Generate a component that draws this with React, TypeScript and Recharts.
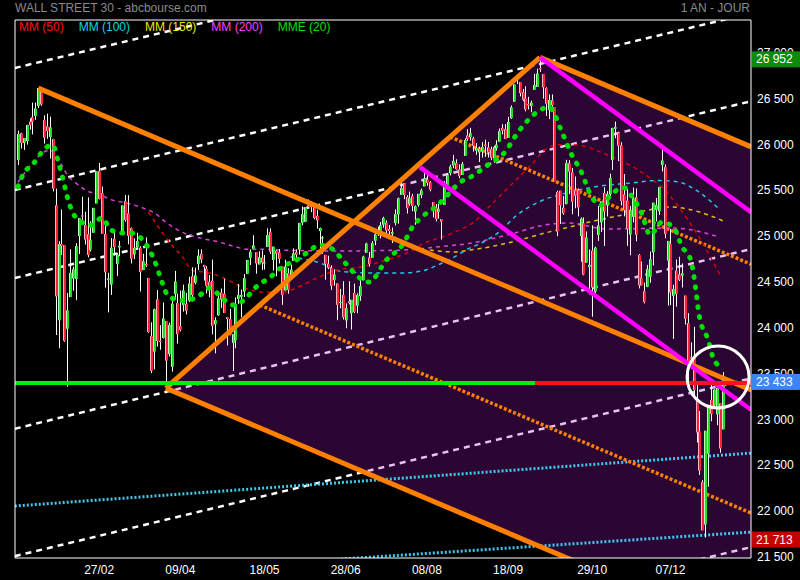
import React from 'react';
import {
  ComposedChart, Bar, Line, Area, XAxis, YAxis,
  ReferenceLine, ReferenceDot, ReferenceArea,
} from 'recharts';

const FONT = '"Liberation Sans", Arial, sans-serif';

// daily candles [open, high, low, close], 17/01/2018 -> 04/01/2019
const jan18 = [
  [25834, 26153, 25778, 26116], [26123, 26130, 25957, 26018], [26021, 26072, 25942, 26072],
  [26040, 26215, 26000, 26215], [26250, 26286, 26165, 26211], [26298, 26458, 26112, 26252],
  [26313, 26459, 26270, 26393], [26421, 26617, 26400, 26617], [26591, 26608, 26424, 26439],
  [26270, 26320, 26012, 26077], [26198, 26338, 26063, 26149],
];
const feb18 = [
  [26083, 26306, 25849, 26187], [26062, 26062, 25490, 25521], [25337, 25520, 23923, 24346],
  [24085, 24946, 23778, 24913], [24916, 25293, 24796, 24893], [24902, 24903, 23849, 23860],
  [23993, 24382, 23360, 24191], [24337, 24860, 24337, 24601], [24541, 24668, 24406, 24640],
  [24535, 24925, 24303, 24893], [25004, 25200, 24806, 25200], [25227, 25432, 25165, 25219],
  [25124, 25268, 24910, 24965], [25022, 25425, 24770, 24798], [24853, 25163, 24834, 24962],
  [25040, 25310, 25040, 25310], [25359, 25709, 25359, 25709], [25709, 25800, 25402, 25410],
  [25472, 25543, 25029, 25029],
];
const mar18 = [
  [25024, 25150, 24440, 24609], [24536, 24602, 24170, 24538], [24475, 24980, 24360, 24875],
  [24971, 25070, 24790, 24884], [24700, 24820, 24566, 24801], [24880, 24950, 24781, 24895],
  [25025, 25336, 25015, 25336], [25384, 25450, 25160, 25179], [25248, 25449, 24913, 25007],
  [25088, 25097, 24704, 24758], [24803, 24977, 24750, 24874], [24878, 25039, 24863, 24947],
  [24875, 24892, 24398, 24611], [24632, 24810, 24630, 24727], [24697, 24988, 24665, 24682],
  [24546, 24546, 23947, 23958], [23909, 24062, 23509, 23533], [23743, 24211, 23549, 24203],
  [24311, 24414, 23797, 23858], [23860, 24031, 23762, 23848], [23890, 24277, 23885, 24103],
];
const apr18 = [
  [24076, 24076, 23344, 23644], [23715, 24058, 23688, 24033], [23577, 24311, 23523, 24264],
  [24373, 24622, 24306, 24505], [24272, 24374, 23829, 23933], [24019, 24409, 23963, 23979],
  [24252, 24472, 24178, 24408], [24264, 24382, 24147, 24189], [24301, 24558, 24284, 24483],
  [24562, 24662, 24289, 24360], [24493, 24658, 24475, 24573], [24700, 24858, 24632, 24787],
  [24808, 24858, 24706, 24748], [24688, 24688, 24517, 24665], [24646, 24675, 24376, 24463],
  [24502, 24577, 24335, 24449], [24515, 24746, 23930, 24024], [24041, 24117, 23723, 24084],
  [24139, 24398, 24132, 24322], [24386, 24430, 24218, 24311], [24371, 24537, 24163, 24163],
];
const may18 = [
  [24117, 24117, 23809, 24099], [24097, 24208, 23920, 23925], [23836, 23930, 23531, 23930],
  [23866, 24333, 23778, 24263], [24317, 24479, 24263, 24357], [24341, 24418, 24116, 24360],
  [24399, 24587, 24337, 24543], [24591, 24743, 24591, 24740], [24766, 24855, 24687, 24831],
  [24867, 25012, 24866, 24899], [24826, 24826, 24592, 24706], [24693, 24837, 24693, 24769],
  [24766, 24847, 24633, 24714], [24706, 24796, 24637, 24715], [24883, 25087, 24883, 25013],
  [25048, 25086, 24808, 24834], [24742, 24887, 24626, 24887], [24843, 24855, 24564, 24812],
  [24825, 24861, 24704, 24753], [24672, 24672, 24252, 24361], [24411, 24744, 24406, 24668],
  [24597, 24654, 24374, 24416],
];
const jun18 = [
  [24536, 24691, 24528, 24635], [24733, 24868, 24733, 24814], [24825, 24858, 24729, 24800],
  [24857, 25147, 24800, 25146], [25149, 25326, 25121, 25241], [25159, 25317, 25154, 25317],
  [25336, 25402, 25316, 25322], [25346, 25380, 25263, 25321], [25333, 25359, 25186, 25201],
  [25223, 25289, 25084, 25175], [25057, 25096, 24861, 25090], [24983, 25003, 24809, 24987],
  [24797, 24797, 24527, 24700], [24701, 24788, 24641, 24658], [24654, 24683, 24416, 24462],
  [24522, 24640, 24461, 24581], [24485, 24485, 24085, 24253], [24278, 24426, 24215, 24283],
  [24360, 24509, 24092, 24118], [24084, 24268, 23997, 24216], [24291, 24509, 24257, 24271],
];
const jul18 = [
  [24161, 24307, 23982, 24307], [24381, 24484, 24162, 24175], [24245, 24377, 24161, 24357],
  [24347, 24530, 24296, 24456], [24520, 24788, 24520, 24777], [24821, 24930, 24821, 24920],
  [24767, 24830, 24671, 24700], [24765, 24948, 24765, 24925], [24952, 25044, 24903, 25019],
  [25028, 25105, 25004, 25064], [25027, 25155, 24976, 25120], [25128, 25213, 25093, 25199],
  [25148, 25174, 24999, 25065], [25079, 25124, 24980, 25058], [25029, 25095, 24926, 25044],
  [25146, 25294, 25118, 25242], [25240, 25423, 25137, 25414], [25454, 25592, 25454, 25527],
  [25577, 25577, 25405, 25451], [25427, 25448, 25249, 25307], [25354, 25488, 25334, 25415],
];
const aug18 = [
  [25438, 25463, 25275, 25334], [25271, 25337, 25126, 25326], [25341, 25463, 25323, 25463],
  [25449, 25521, 25415, 25502], [25545, 25692, 25545, 25629], [25621, 25671, 25551, 25584],
  [25589, 25603, 25491, 25509], [25372, 25372, 25207, 25313], [25312, 25353, 25162, 25188],
  [25265, 25354, 25192, 25300], [25188, 25188, 24965, 25162], [25343, 25602, 25343, 25559],
  [25557, 25690, 25507, 25669], [25690, 25781, 25664, 25759], [25775, 25888, 25743, 25822],
  [25797, 25840, 25727, 25734], [25728, 25786, 25633, 25657], [25669, 25812, 25669, 25790],
  [25879, 26068, 25879, 26050], [26099, 26169, 26042, 26064], [26081, 26184, 26044, 26125],
  [26068, 26086, 25924, 25987], [25935, 26016, 25890, 25965],
];
const sep18 = [
  [25917, 25979, 25810, 25952], [25927, 26029, 25860, 25975], [25999, 26054, 25867, 25996],
  [25970, 26029, 25860, 25917], [25950, 25977, 25833, 25857], [25852, 25987, 25800, 25971],
  [25961, 26048, 25935, 25999], [26033, 26176, 26033, 26146], [26181, 26223, 26113, 26155],
  [26169, 26223, 26059, 26062], [26074, 26303, 26074, 26247], [26290, 26427, 26281, 26406],
  [26469, 26657, 26469, 26657], [26711, 26770, 26662, 26744], [26683, 26683, 26527, 26562],
  [26571, 26607, 26474, 26492], [26503, 26637, 26364, 26385], [26441, 26522, 26384, 26440],
  [26422, 26480, 26354, 26458],
];
const oct18 = [
  [26598, 26772, 26598, 26651], [26629, 26828, 26629, 26774], [26833, 26952, 26794, 26828],
  [26770, 26770, 26502, 26627], [26616, 26626, 26314, 26447], [26379, 26548, 26278, 26487],
  [26483, 26548, 26368, 26431], [26409, 26409, 25598, 25599], [25483, 25498, 25001, 25053],
  [25497, 25497, 25135, 25340], [25311, 25438, 25234, 25251], [25351, 25834, 25351, 25798],
  [25796, 25830, 25460, 25707], [25697, 25745, 25241, 25379], [25503, 25652, 25306, 25444],
  [25502, 25522, 25218, 25317], [25004, 25205, 24723, 25191], [25143, 25206, 24575, 24583],
  [24712, 25053, 24712, 24985], [24667, 24856, 24367, 24688], [24843, 25119, 24122, 24443],
  [24397, 24887, 24377, 24875], [25014, 25330, 24950, 25116],
];
const nov18 = [
  [25153, 25380, 25047, 25381], [25472, 25535, 24895, 25271], [25340, 25492, 25217, 25462],
  [25459, 25684, 25426, 25635], [25833, 26184, 25723, 26180], [26174, 26251, 26070, 26191],
  [26128, 26128, 25820, 25989], [25992, 26027, 25337, 25387], [25455, 25678, 25217, 25286],
  [25389, 25513, 24896, 25081], [25021, 25329, 24793, 25289], [25214, 25532, 25152, 25413],
  [25423, 25521, 24946, 25017], [24796, 24806, 24431, 24466], [24544, 24725, 24464, 24465],
  [24400, 24495, 24268, 24286], [24449, 24688, 24445, 24640], [24560, 24834, 24494, 24749],
  [24827, 25367, 24682, 25366], [25292, 25418, 25162, 25339], [25274, 25540, 25233, 25538],
];
const dec18 = [
  [25779, 25981, 25708, 25826], [25755, 25785, 24978, 25027], [24737, 24950, 24243, 24948],
  [24918, 25080, 24250, 24389], [24352, 24471, 23881, 24423], [24625, 24747, 24233, 24370],
  [24581, 24777, 24512, 24527], [24571, 24704, 24441, 24597], [24353, 24353, 24037, 24101],
  [24052, 24162, 23424, 23593], [23678, 23842, 23553, 23676], [23676, 24012, 23233, 23324],
  [23225, 23382, 22750, 22860], [22872, 23094, 22396, 22445], [22317, 22339, 21792, 21792],
  [21857, 22879, 21713, 22878], [22629, 23139, 22268, 23139], [23213, 23382, 22982, 23062],
  [23153, 23333, 23118, 23327],
];
const jan19 = [
  [23059, 23413, 22939, 23346], [23177, 23177, 22638, 22686], [22894, 23518, 22894, 23433],
];

// moving averages: [bar index, value]
const mme20 = [
  [0, 25540], [2, 25690], [5, 25780], [8, 25910], [10, 25975], [12, 25995], [14, 25800],
  [16, 25560], [17, 25430], [19, 25250], [21, 25180], [25, 25120], [29, 25200], [32, 25070],
  [36, 25035], [39, 25035], [43, 24960], [45, 24870], [47, 24740], [49, 24560], [50, 24470],
  [52, 24340], [57, 24300], [62, 24340], [66, 24435], [70, 24340], [74, 24250], [78, 24305],
  [82, 24445], [87, 24555], [91, 24665], [96, 24740], [100, 24830], [104, 24905], [108, 24870],
  [112, 24740], [115, 24630], [121, 24500], [127, 24740], [133, 24925], [136, 25100],
  [140, 25230], [144, 25320], [149, 25480], [152, 25580], [156, 25645], [163, 25800],
  [167, 25885], [173, 26160], [179, 26355], [183, 26410], [188, 26105], [191, 25885],
  [194, 25720], [198, 25420], [201, 25340], [205, 25470], [209, 25530], [212, 25420],
  [215, 25255], [218, 25015], [222, 25155], [226, 25100], [229, 24885], [232, 24740],
  [233, 24580], [235, 24120], [238, 23870], [240, 23650], [243, 23565],
];
const mm50 = [
  [45, 25265], [48, 25120], [53, 24905], [57, 24765], [60, 24630], [66, 24600], [71, 24545],
  [77, 24450], [85, 24390], [91, 24390], [97, 24450], [103, 24545], [110, 24630], [118, 24665],
  [127, 24740], [135, 24830], [140, 24925], [147, 25000], [153, 25080], [157, 25150],
  [163, 25340], [170, 25560], [177, 25780], [182, 25950], [187, 26000], [193, 25995],
  [203, 25890], [214, 25720], [224, 25470], [231, 25180], [238, 24820], [242, 24580],
];
const mm100 = [
  [94, 24775], [104, 24710], [111, 24620], [121, 24600], [132, 24600], [139, 24620],
  [145, 24690], [150, 24765], [155, 24860], [160, 24930], [166, 25050], [172, 25230],
  [180, 25380], [190, 25480], [200, 25545], [211, 25580], [221, 25610], [228, 25590],
  [234, 25500], [242, 25290],
];
const mm150 = [
  [142, 24850], [150, 24830], [156, 24850], [165, 24900], [173, 24960], [181, 25030],
  [190, 25100], [197, 25155], [205, 25210], [214, 25265], [225, 25320], [235, 25265],
  [243, 25170],
];
const mm200 = [
  [0, 25590], [5, 25800], [9, 25920], [11, 25940], [15, 25780], [17, 25670], [20, 25580],
  [22, 25530], [25, 25480], [27, 25470], [32, 25400], [37, 25365], [43, 25310], [47, 25255],
  [51, 25155], [55, 25070], [59, 25015], [63, 24980], [69, 24940], [75, 24885], [79, 24860],
  [85, 24860], [90, 24850], [112, 24840], [133, 24850], [145, 24885], [156, 24925],
  [170, 25025], [181, 25120], [190, 25145], [203, 25080], [226, 25090], [242, 24990],
];

// drawn lines, end points [bar index, price]
const whiteDashed = [
  [[-1.1, 26836], [252.8, 28765]],
  [[-1.1, 25505], [252.8, 27434]],
  [[-1.1, 24545], [252.8, 26474]],
  [[-1.1, 22900], [252.8, 24861]],
  [[-1.1, 21510], [252.8, 23450]],
  [[-1.1, 19680], [252.8, 21609]],
];
const orangeSolid = [
  [[7, 26617], [252.8, 23323]],
  [[51, 23344], [180, 26952]],
  [[180, 26952], [252.8, 25976]],
  [[51, 23344], [200, 21347]],
];
const orangeDotted = [
  [[83.4, 24250], [252.8, 21980]],
  [[149, 26085], [252.8, 24695]],
];
const magentaSolid = [
  [[180, 26952], [252.8, 25264]],
  [[138.6, 25755], [252.8, 23107]],
];
const cyanDotted = [
  [[-1.1, 22057], [252.8, 22635]],
  [[110, 21475], [252.8, 21773]],
];
const supportGreen = [[-1.1, 23400], [178.3, 23400]];
const supportRed = [[178.3, 23400], [252.8, 23400]];

// shaded fork zone: [bar index, lower, upper]
const forkZone = [
  [51, 23344, 23344],
  [180, 21615, 26952],
  [189.4, 21490, 26826],
  [252.8, 21400, 25976],
];

const xTicks = [28, 56, 85, 113, 141, 169, 198, 225];
const xTickLabels = ['27/02', '09/04', '18/05', '28/06', '08/08', '18/09', '29/10', '07/12'];
const yTicks = [21500, 22000, 22500, 23000, 23500, 24000, 24500, 25000, 25500, 26000, 26500, 27000];

const priceTags = [
  { value: 26952, text: '26 952', bg: '#0b8a0b' },
  { value: 23433, text: '23 433', bg: '#3d85f5' },
  { value: 21713, text: '21 713', bg: '#c40000' },
];

const legendItems = [
  { label: 'MM (50)', color: '#ff1010' },
  { label: 'MM (100)', color: '#00d8e8' },
  { label: 'MM (150)', color: '#e8e800' },
  { label: 'MM (200)', color: '#ff40ff' },
  { label: 'MME (20)', color: '#00e000' },
];

const X_MIN = -1.03;
const X_MAX = 252.76;
const Y_MIN = 21490;
const Y_MAX = 27360;

const candleData = [
  ...jan18, ...feb18, ...mar18, ...apr18, ...may18, ...jun18,
  ...jul18, ...aug18, ...sep18, ...oct18, ...nov18, ...dec18, ...jan19,
].map(([o, h, l, c], i) => ({ x: i, range: [l, h], o, h, l, c }));

const pts = (arr: number[][]) => arr.map(([x, y]) => ({ x, y }));
const zone = forkZone.map(([x, lo, hi]) => ({ x, band: [lo, hi] }));

const fmt = (v: number) => `${Math.floor(v / 1000)} ${String(v % 1000).padStart(3, '0')}`;

const Candle = (props: any) => {
  const { x, y, width, height, payload } = props;
  if (x == null || !payload) return null;
  const { o, h, l, c } = payload;
  const top = Math.min(y, y + height);
  const bot = Math.max(y, y + height);
  const py = (v: number) => top + ((h - v) / (h - l || 1)) * (bot - top);
  const cx = Math.round(x + width / 2);
  const up = c >= o;
  const bt = Math.min(py(o), py(c));
  const bh = Math.max(1, Math.abs(py(o) - py(c)));
  return (
    <g>
      <line x1={cx + 0.5} x2={cx + 0.5} y1={top} y2={bot} stroke="#ffffff" strokeWidth={1} />
      <rect x={cx - 1} y={bt} width={3} height={bh} fill={up ? '#1ee01e' : '#ff1f3d'} />
      <rect x={cx - 1} y={bt} width={1} height={bh} fill={up ? '#b8ffb8' : '#ffb0bd'} />
    </g>
  );
};

const renderYTick = (props: any) => (
  <text x={props.x} y={props.y} dy={4} fill="#ffffff" fontSize={12} fontFamily={FONT} textAnchor="start">
    {fmt(props.payload.value)}
  </text>
);

const renderXTick = (props: any) => (
  <text x={props.x} y={props.y + 10} fill="#ffffff" fontSize={12} fontFamily={FONT} textAnchor="middle">
    {xTickLabels[xTicks.indexOf(props.payload.value)]}
  </text>
);

const tagLabel = (text: string, bg: string) => (props: any) => {
  const vb = props.viewBox || {};
  const x = vb.x + vb.width + 1;
  const y = vb.y + 2;
  return (
    <g>
      <rect x={x} y={y - 8} width={48} height={16} fill={bg} />
      <text x={x + 4} y={y + 4} fill="#ffffff" fontSize={12} fontFamily={FONT}>{text}</text>
    </g>
  );
};

const seg = (d: number[][], key: string, color: string, w: number, dash: string | undefined, z: number, cap: any = 'butt') => (
  <Line
    key={key}
    data={pts(d)}
    dataKey="y"
    type="linear"
    stroke={color}
    strokeWidth={w}
    strokeDasharray={dash}
    strokeLinecap={cap}
    dot={false}
    activeDot={false}
    isAnimationActive={false}
    legendType="none"
    zIndex={z}
  />
);

const ma = (d: number[][], key: string, color: string, w: number, dash: string, z: number, cap: any = 'butt') => (
  <Line
    key={key}
    data={pts(d)}
    dataKey="y"
    type="monotone"
    stroke={color}
    strokeWidth={w}
    strokeDasharray={dash}
    strokeLinecap={cap}
    dot={false}
    activeDot={false}
    isAnimationActive={false}
    zIndex={z}
  />
);

export default function App() {
  return (
    <div style={{ position: 'absolute', left: 0, top: 0, width: 800, height: 580, background: '#000', fontFamily: FONT }}>
      <ComposedChart width={800} height={580} data={candleData} margin={{ top: 20, right: 0, bottom: 0, left: 15 }}>
        <XAxis
          dataKey="x"
          type="number"
          scale="linear"
          domain={[X_MIN, X_MAX]}
          allowDataOverflow
          ticks={xTicks}
          interval={0}
          height={22}
          axisLine={false}
          tickLine={false}
          tickSize={6}
          tickMargin={0}
          tick={renderXTick}
        />
        <YAxis
          orientation="right"
          type="number"
          domain={[Y_MIN, Y_MAX]}
          allowDataOverflow
          ticks={yTicks}
          interval={0}
          width={49}
          axisLine={false}
          tickLine={false}
          tickSize={6}
          tickMargin={0}
          tick={renderYTick}
        />

        {whiteDashed.map((d, i) => seg(d, `w${i}`, '#ffffff', 2.5, '6 5', 10))}

        <Area
          data={zone}
          dataKey="band"
          type="linear"
          stroke="none"
          fill="#a818c0"
          fillOpacity={0.26}
          isAnimationActive={false}
          activeDot={false}
          zIndex={20}
        />

        {cyanDotted.map((d, i) => seg(d, `c${i}`, '#40c8f0', 3, '2 2', 30))}
        {orangeDotted.map((d, i) => seg(d, `od${i}`, '#ff8000', 3.5, '3 2', 30))}

        {ma(mm200, 'mm200', '#e040e0', 1.5, '4 4', 40)}
        {ma(mm150, 'mm150', '#e8c000', 1.5, '4 4', 40)}
        {ma(mm100, 'mm100', '#22c8e8', 1.5, '4 4', 40)}
        {ma(mm50, 'mm50', '#d80000', 1.5, '4 4', 40)}

        <Bar dataKey="range" barSize={3} shape={Candle} isAnimationActive={false} activeBar={false} zIndex={50} />

        {ma(mme20, 'mme20', '#00dd00', 5, '1 9', 60, 'round')}

        {orangeSolid.map((d, i) => seg(d, `o${i}`, '#ff8000', 5, undefined, 70))}
        {magentaSolid.map((d, i) => seg(d, `m${i}`, '#ff00ff', 4.5, undefined, 70))}
        {seg(supportGreen, 'sg', '#00ee00', 4, undefined, 72)}
        {seg(supportRed, 'sr', '#ff1020', 4, undefined, 72)}

        <ReferenceArea
          x1={X_MIN}
          x2={X_MAX}
          y1={Y_MIN}
          y2={Y_MAX}
          fill="none"
          stroke="#ffffff"
          strokeWidth={1}
          ifOverflow="visible"
          zIndex={74}
        />

        <ReferenceDot x={241.4} y={23465} r={31} fill="none" stroke="#ffffff" strokeWidth={3} zIndex={80} />

        {priceTags.map((t) => (
          <ReferenceLine
            key={t.text}
            y={t.value}
            stroke="none"
            label={tagLabel(t.text, t.bg)}
            zIndex={2100}
          />
        ))}
      </ComposedChart>

      <div style={{ position: 'absolute', left: 15, top: 1, color: '#8a8a8a', fontSize: 12, lineHeight: '14px' }}>
        WALL STREET 30 - abcbourse.com
      </div>
      <div style={{ position: 'absolute', right: 50, top: 1, color: '#8a8a8a', fontSize: 12, lineHeight: '14px' }}>
        1 AN - JOUR
      </div>
      <div style={{ position: 'absolute', left: 19, top: 20, display: 'flex', gap: 15, fontSize: 12, lineHeight: '14px' }}>
        {legendItems.map((it) => (
          <span key={it.label} style={{ color: it.color }}>{it.label}</span>
        ))}
      </div>
    </div>
  );
}
